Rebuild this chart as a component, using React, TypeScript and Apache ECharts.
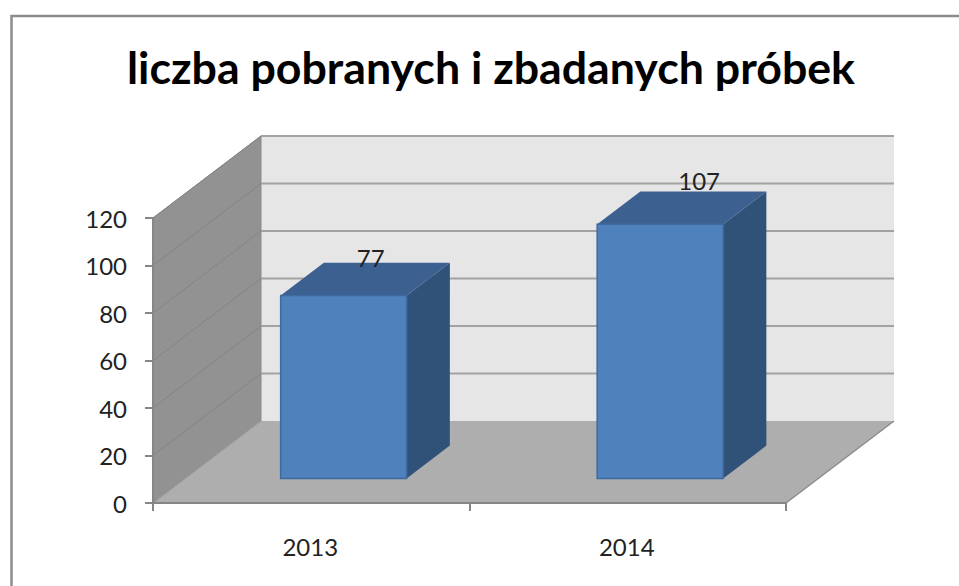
import React, { useEffect, useRef } from "react";
import * as echarts from "echarts";

const categories = ["2013", "2014"];
const sampleCounts = [77, 107];
const yTicks = [0, 20, 40, 60, 80, 100, 120];
const titleText = "liczba pobranych i zbadanych próbek";

// 3D projection constants (pixels)
const DEPTH_X = 108;
const DEPTH_Y = 82;
const BAR_HALF = 63;
const Z_FRONT = 0.3;
const Z_BACK = 0.7;
const labelShift = [
  [27, -38],
  [39, -44],
];

const FONT = "Lato, Carlito, 'Open Sans', sans-serif";

function poly(points: number[][], fill: string, stroke?: string, lineWidth = 1) {
  return {
    type: "polygon",
    shape: { points },
    style: { fill, stroke: stroke ?? "none", lineWidth },
  };
}
function seg(a: number[], b: number[], stroke: string, lineWidth: number) {
  return {
    type: "line",
    shape: { x1: a[0], y1: a[1], x2: b[0], y2: b[1] },
    style: { stroke, lineWidth },
  };
}

const renderWalls = (params: any, api: any) => {
  const cs = params.coordSys;
  const left = cs.x;
  const right = cs.x + cs.width;
  const bottom = cs.y + cs.height;
  const top = cs.y;
  const children: any[] = [
    poly([[left + DEPTH_X, top - DEPTH_Y], [right + DEPTH_X, top - DEPTH_Y], [right + DEPTH_X, bottom - DEPTH_Y], [left + DEPTH_X, bottom - DEPTH_Y]], "#e6e6e6"),
    poly([[left, top], [left + DEPTH_X, top - DEPTH_Y], [left + DEPTH_X, bottom - DEPTH_Y], [left, bottom]], "#929292", "#8a8a8a", 1),
    poly([[left, bottom], [left + DEPTH_X, bottom - DEPTH_Y], [right + DEPTH_X, bottom - DEPTH_Y], [right, bottom]], "#aeaeae"),
    seg([right, bottom], [right + DEPTH_X, bottom - DEPTH_Y], "#8c8c8c", 1.5),
    seg([left, bottom], [left + DEPTH_X, bottom - DEPTH_Y], "#9a9a9a", 1),
  ];
  yTicks.forEach((t) => {
    if (t === 0) return;
    const y = api.coord([0, t])[1];
    children.push(seg([left, y], [left + DEPTH_X, y - DEPTH_Y], "#848484", 1));
    children.push(seg([left + DEPTH_X, y - DEPTH_Y], [right + DEPTH_X, y - DEPTH_Y], "#a2a2a2", 2));
  });
  return { type: "group", children };
};

const renderBar = (params: any, api: any) => {
  const i = api.value(0);
  const v = api.value(1);
  const p = api.coord([i, v]);
  const base = api.coord([i, 0]);
  const cx = p[0] + Z_FRONT * DEPTH_X;
  const l = cx - BAR_HALF;
  const r = cx + BAR_HALF;
  const yt = p[1] - Z_FRONT * DEPTH_Y;
  const yb = base[1] - Z_FRONT * DEPTH_Y;
  const dx = (Z_BACK - Z_FRONT) * DEPTH_X;
  const dy = (Z_BACK - Z_FRONT) * DEPTH_Y;
  const [sx, sy] = labelShift[params.dataIndex];
  return {
    type: "group",
    children: [
      poly([[r, yt], [r + dx, yt - dy], [r + dx, yb - dy], [r, yb]], "#305279"),
      poly([[l, yt], [l + dx, yt - dy], [r + dx, yt - dy], [r, yt]], "#3c608f"),
      poly([[l, yt], [r, yt], [r, yb], [l, yb]], "#4f81bd", "#3f6aa0", 1.5),
      {
        type: "text",
        x: cx + sx,
        y: yt + sy,
        style: {
          text: String(v),
          fill: "#222",
          font: `24px ${FONT}`,
          align: "center",
          verticalAlign: "middle",
        },
      },
    ],
  };
};

export default function App() {
  const ref = useRef<HTMLDivElement>(null);
  useEffect(() => {
    const chart = echarts.init(ref.current!, undefined, { renderer: "svg" });
    chart.setOption({
      animation: false,
      backgroundColor: "#fff",
      title: {
        text: titleText,
        left: 486,
        top: 39,
        textAlign: "center",
        textStyle: { fontFamily: FONT, fontWeight: "bold", fontSize: 44.7, color: "#000" },
      },
      grid: { left: 153, right: 173, top: 218, bottom: 83 },
      xAxis: {
        type: "category",
        data: categories,
        axisLine: { lineStyle: { color: "#868686", width: 2 } },
        axisTick: { show: true, length: 8, lineStyle: { color: "#868686", width: 2 } },
        axisLabel: { margin: 31, fontSize: 24, color: "#222", fontFamily: FONT, padding: [0, 2, 0, 0] },
        z: 5,
      },
      yAxis: {
        type: "value",
        min: 0,
        max: 120,
        interval: 20,
        splitLine: { show: false },
        axisLine: { show: true, lineStyle: { color: "#868686", width: 2 } },
        axisTick: { show: true, length: 8, lineStyle: { color: "#868686", width: 2 } },
        axisLabel: { margin: 26, fontSize: 24, color: "#222", fontFamily: FONT, padding: [3, 0, 0, 0] },
        z: 5,
      },
      graphic: [
        {
          type: "rect",
          shape: { x: 11.5, y: 16, width: 990, height: 640 },
          style: { fill: "none", stroke: "#8c8c8c", lineWidth: 2.5 },
          z: 10,
        },
      ],
      series: [
        {
          type: "custom",
          coordinateSystem: "cartesian2d",
          data: [[0, 0]],
          renderItem: renderWalls,
          clip: false,
          silent: true,
          z: 1,
        },
        {
          type: "custom",
          coordinateSystem: "cartesian2d",
          data: sampleCounts.map((v, i) => [i, v]),
          renderItem: renderBar,
          clip: false,
          z: 2,
        },
      ],
    });
    return () => chart.dispose();
  }, []);
  return (
    <div
      ref={ref}
      style={{ position: "fixed", left: 0, top: 0, width: 959, height: 586 }}
    />
  );
}
